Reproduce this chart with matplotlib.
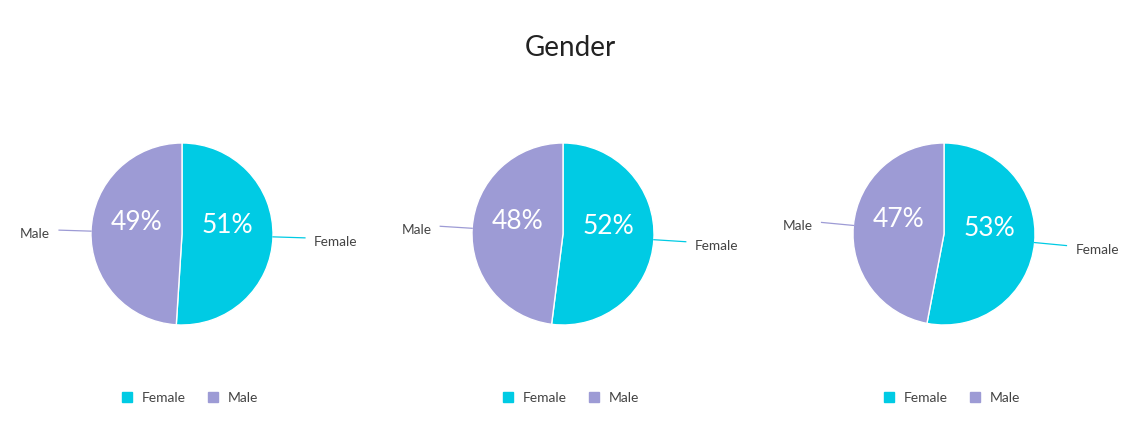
import numpy as np
import matplotlib.pyplot as plt
from matplotlib.patches import Patch

plt.rcParams['font.family'] = ['Lato', 'DejaVu Sans']

title = 'Gender'
categories = ['Female', 'Male']
female_pct = [51, 52, 53]
male_pct = [49, 48, 47]
colors = ['#00CBE4', '#9D9BD5']

W, H = 1140, 445
fig = plt.figure(figsize=(W / 100, H / 100), dpi=100)
ax = fig.add_axes([0, 0, 1, 1])

centers_x = [182, 563, 944]
cy = H - 234
radius = 91

for cx, f, m in zip(centers_x, female_pct, male_pct):
    vals = [f, m]
    wedges, _ = ax.pie(vals, colors=colors, startangle=90, counterclock=False,
                       center=(cx, cy), radius=radius,
                       wedgeprops=dict(edgecolor='white', linewidth=1))
    for w, v, lab, col in zip(wedges, vals, categories, colors):
        mid = np.deg2rad((w.theta1 + w.theta2) / 2)
        c, s = np.cos(mid), np.sin(mid)
        # percentage inside slice
        ax.text(cx + 0.5 * radius * c, cy + 0.5 * radius * s + 10, f'{v}%',
                ha='center', va='center', color='white', fontsize=19)
        # outside label with leader line
        ax.plot([cx + radius * c, cx + 123 * c], [cy + radius * s, cy + 123 * s],
                color=col, lw=0.9)
        ax.text(cx + 132 * c, cy + 132 * s - 4, lab, ha='left' if c > 0 else 'right',
                va='center', color='#444444', fontsize=9.8)
    handles = [Patch(color=col, label=lab) for col, lab in zip(colors, categories)]
    fig.legend(handles=handles, loc='center', ncol=2, frameon=False,
               bbox_to_anchor=((cx + 8) / W, (H - 398) / H), fontsize=10,
               handlelength=0.75, handleheight=0.75, handletextpad=0.7,
               columnspacing=1.6, labelcolor='#444444')

ax.text(W / 2, H - 48, title, ha='center', va='center', fontsize=20, color='#222222')

ax.set_xlim(0, W)
ax.set_ylim(0, H)
ax.axis('off')

fig.savefig('out.png', dpi=100, facecolor='white')
